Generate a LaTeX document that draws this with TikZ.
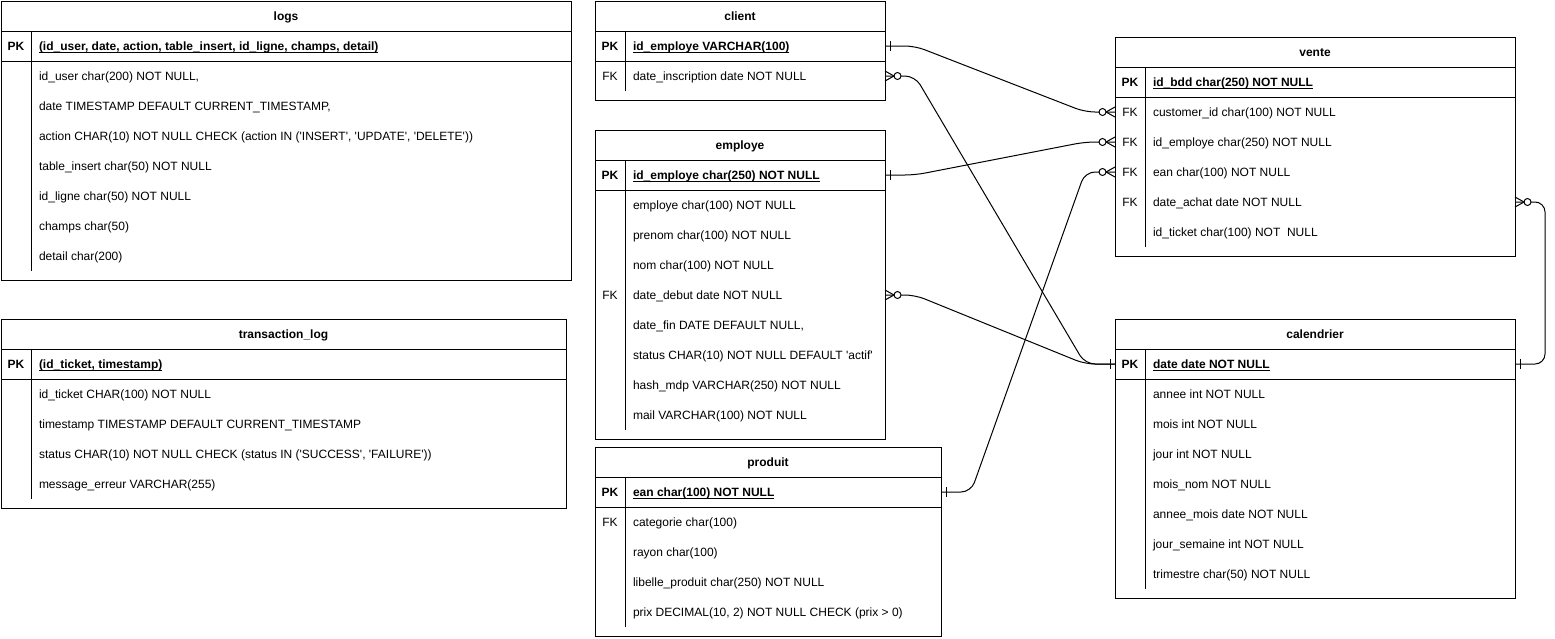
\documentclass[tikz,border=0pt]{standalone}
\usepackage{fontspec}
\setmainfont{Liberation Sans}
\usetikzlibrary{calc}
\newcommand\myul[1]{\sbox0{#1}\rlap{\rule[-2pt]{\wd0}{0.9pt}}\usebox0}
\newcommand\q{\textquotesingle}
\tikzset{
  tbl/.style={draw, line width=1pt, inner sep=0pt, outer sep=0pt},
  tline/.style={line width=1pt},
  rowbox/.style={inner sep=0pt, outer sep=0pt, minimum height=30pt},
  ft/.style={font=\fontsize{12}{14}\selectfont, inner sep=0pt, outer sep=0pt},
  keyt/.style={ft, anchor=base},
  fldt/.style={ft, anchor=base west},
  ttl/.style={inner sep=0pt, outer sep=0pt, anchor=base, font=\fontsize{12}{14}\selectfont\bfseries},
  conn/.style={line width=1pt, rounded corners=10pt},
  ermark/.style={line width=1pt},
}
% table frame: name, x0, y0, width, number of fields, title
\newcommand\erbegin[6]{%
  \def\tx{#2}\def\ty{#3}\def\tw{#4}%
  \node[tbl, minimum width=#4pt, minimum height={(69+30*#5)*1pt}, anchor=north west] (#1) at (#2,#3) {};
  \node[ttl] (#1-title) at ({#2+#4/2},{#3+19.5}) {#6};
  \draw[tline] (#2,{#3+30}) -- ++(#4,0);
  \draw[tline] (#2,{#3+60}) -- ++(#4,0);
  \draw[tline] ({#2+30},{#3+30}) -- ++(0,{30+30*#5});
}
% field row: table name, index, key, text
\newcommand\erfield[4]{%
  \node[rowbox, minimum width=\tw pt, anchor=north west] (#1-#2) at (\tx,{\ty+30+30*#2}) {};
  \node[keyt] (#1-#2-key) at ({\tx+15},{\ty+49.5+30*#2}) {#3};
  \node[fldt] (#1-#2-txt) at ({\tx+38},{\ty+49.5+30*#2}) {#4};
}
\newcommand\mandone[2]{%
  \draw[ermark] ($(#1)+(#2*5,-5)$) -- ($(#1)+(#2*5,5)$);}
\newcommand\zeromany[2]{%
  \draw[ermark] ($(#1)+(#2*9,0)$) -- ($(#1)+(0,-5)$)
                ($(#1)+(#2*9,0)$) -- ($(#1)+(0,5)$);
  \draw[ermark, fill=white] ($(#1)+(#2*12.5,0)$) circle[radius=3.5];}
\begin{document}
\begin{tikzpicture}[x=1pt, y=-1pt]
\fill[white] (0,0) rectangle (1555,638);
\useasboundingbox (0,0) rectangle (1555,638);

% logs
\erbegin{logs}{1}{1}{570}{7}{logs}
\erfield{logs}{0}{\bfseries PK}{\bfseries\myul{(id\_user, date, action, table\_insert, id\_ligne, champs, detail)}}
\erfield{logs}{1}{}{id\_user char(200) NOT NULL,}
\erfield{logs}{2}{}{date TIMESTAMP DEFAULT CURRENT\_TIMESTAMP,}
\erfield{logs}{3}{}{action CHAR(10) NOT NULL CHECK (action IN (\q INSERT\q, \q UPDATE\q, \q DELETE\q))}
\erfield{logs}{4}{}{table\_insert char(50) NOT NULL}
\erfield{logs}{5}{}{id\_ligne char(50) NOT NULL}
\erfield{logs}{6}{}{champs char(50)}
\erfield{logs}{7}{}{detail char(200)}

% transaction_log
\erbegin{tlog}{1}{319}{565}{4}{transaction\_log}
\erfield{tlog}{0}{\bfseries PK}{\bfseries\myul{(id\_ticket, timestamp)}}
\erfield{tlog}{1}{}{id\_ticket CHAR(100) NOT NULL}
\erfield{tlog}{2}{}{timestamp TIMESTAMP DEFAULT CURRENT\_TIMESTAMP}
\erfield{tlog}{3}{}{status CHAR(10) NOT NULL CHECK (status IN (\q SUCCESS\q, \q FAILURE\q))}
\erfield{tlog}{4}{}{message\_erreur VARCHAR(255)}

% client
\erbegin{client}{595}{1}{290}{1}{client}
\erfield{client}{0}{\bfseries PK}{\bfseries\myul{id\_employe VARCHAR(100)}}
\erfield{client}{1}{FK}{date\_inscription date NOT NULL}

% employe
\erbegin{employe}{595}{130}{290}{8}{employe}
\erfield{employe}{0}{\bfseries PK}{\bfseries\myul{id\_employe char(250) NOT NULL}}
\erfield{employe}{1}{}{employe char(100) NOT NULL}
\erfield{employe}{2}{}{prenom char(100) NOT NULL}
\erfield{employe}{3}{}{nom char(100) NOT NULL}
\erfield{employe}{4}{FK}{date\_debut date NOT NULL}
\erfield{employe}{5}{}{date\_fin DATE DEFAULT NULL,}
\erfield{employe}{6}{}{status CHAR(10) NOT NULL DEFAULT \q actif\q}
\erfield{employe}{7}{}{hash\_mdp VARCHAR(250) NOT NULL}
\erfield{employe}{8}{}{mail VARCHAR(100) NOT NULL}

% produit
\erbegin{produit}{595}{447}{346}{4}{produit}
\erfield{produit}{0}{\bfseries PK}{\bfseries\myul{ean char(100) NOT NULL}}
\erfield{produit}{1}{FK}{categorie char(100)}
\erfield{produit}{2}{}{rayon char(100)}
\erfield{produit}{3}{}{libelle\_produit char(250) NOT NULL}
\erfield{produit}{4}{}{prix DECIMAL(10, 2) NOT NULL CHECK (prix > 0)}

% vente
\erbegin{vente}{1115}{37}{400}{5}{vente}
\erfield{vente}{0}{\bfseries PK}{\bfseries\myul{id\_bdd char(250) NOT NULL}}
\erfield{vente}{1}{FK}{customer\_id char(100) NOT NULL}
\erfield{vente}{2}{FK}{id\_employe char(250) NOT NULL}
\erfield{vente}{3}{FK}{ean char(100) NOT NULL}
\erfield{vente}{4}{FK}{date\_achat date NOT NULL}
\erfield{vente}{5}{}{id\_ticket char(100) NOT\ \ NULL}

% calendrier
\erbegin{calendrier}{1115}{319}{400}{7}{calendrier}
\erfield{calendrier}{0}{\bfseries PK}{\bfseries\myul{date date NOT NULL}}
\erfield{calendrier}{1}{}{annee int NOT NULL}
\erfield{calendrier}{2}{}{mois int NOT NULL}
\erfield{calendrier}{3}{}{jour int NOT NULL}
\erfield{calendrier}{4}{}{mois\_nom NOT NULL}
\erfield{calendrier}{5}{}{annee\_mois date NOT NULL}
\erfield{calendrier}{6}{}{jour\_semaine int NOT NULL}
\erfield{calendrier}{7}{}{trimestre char(50) NOT NULL}

% connectors
\draw[conn] (client-0.east) -- ++(30,0) -- ($(vente-1.west)+(-30,0)$) -- (vente-1.west);
\draw[conn] (client-1.east) -- ++(30,0) -- ($(calendrier-0.west)+(-30,0)$) -- (calendrier-0.west);
\draw[conn] (employe-0.east) -- ++(30,0) -- ($(vente-2.west)+(-30,0)$) -- (vente-2.west);
\draw[conn] (employe-4.east) -- ++(30,0) -- ($(calendrier-0.west)+(-30,0)$) -- (calendrier-0.west);
\draw[conn] (produit-0.east) -- ++(30,0) -- ($(vente-3.west)+(-30,0)$) -- (vente-3.west);
\draw[conn] (vente-4.east) -- ++(30,0) |- (calendrier-0.east);

\mandone{client-0.east}{1}
\zeromany{vente-1.west}{-1}
\zeromany{client-1.east}{1}
\mandone{calendrier-0.west}{-1}
\mandone{employe-0.east}{1}
\zeromany{vente-2.west}{-1}
\zeromany{employe-4.east}{1}
\mandone{produit-0.east}{1}
\zeromany{vente-3.west}{-1}
\zeromany{vente-4.east}{1}
\mandone{calendrier-0.east}{1}
\end{tikzpicture}
\end{document}
